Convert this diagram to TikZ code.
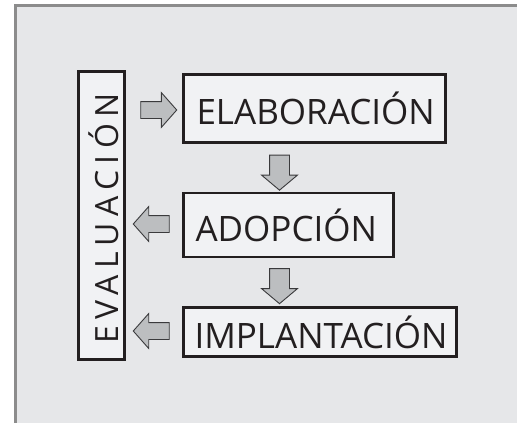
\documentclass[tikz,border=0pt]{standalone}
\usepackage{fontspec}
\setmainfont{Open Sans}
\usetikzlibrary{shapes.arrows}
\definecolor{panel}{HTML}{E6E7E9}
\definecolor{panelline}{HTML}{8C8C8C}
\definecolor{boxfill}{HTML}{F1F2F4}
\definecolor{ink}{HTML}{231F20}
\definecolor{arrowfill}{HTML}{BCBEC0}
\definecolor{arrowline}{HTML}{3A3A3C}
\tikzset{
  stagebox/.style={draw=ink, line width=2.4pt, fill=boxfill, inner sep=0pt},
  stagetext/.style={text=ink, inner sep=0pt, anchor=west, font=\fontsize{35}{40}\selectfont},
  blockarrow/.style={shape=single arrow, draw=arrowline, line width=0.9pt, fill=arrowfill,
    inner sep=0pt, single arrow head indent=0pt},
  hor/.style={blockarrow, minimum height=36pt, minimum width=34pt, inner ysep=8pt,
    single arrow head extend=9pt, single arrow tip angle=97},
  ver/.style={blockarrow, minimum height=35pt, minimum width=35pt, inner ysep=9.5pt,
    single arrow head extend=8pt, single arrow tip angle=100}
}
\begin{document}
\begin{tikzpicture}[x=1pt,y=-1pt]
\useasboundingbox (0,0) rectangle (517,423);
\fill[white] (0,0) rectangle (517,423);
\fill[panel] (15,5) rectangle (517,423);
\draw[panelline, line width=3pt] (15.5,423) -- (15.5,5.8) -- (517,5.8);

\node[stagebox, minimum width=262pt, minimum height=68pt] (elab) at (314.5,108.5) {};
\node[stagetext] (elabt) at ([xshift=14pt]elab.west) {ELABORACIÓN};
\node[stagebox, minimum width=210pt, minimum height=64pt] (adop) at (288.5,225) {};
\node[stagetext] (adopt) at ([xshift=13pt]adop.west) {ADOPCIÓN};
\node[stagebox, minimum width=273pt, minimum height=49pt] (impl) at (320,332) {};
\node[stagetext] (implt) at ([xshift=12pt]impl.west) {IMPLANTACIÓN};
\node[stagebox, minimum width=46pt, minimum height=288pt] (eval) at (101.5,215.5) {};
\node[text=ink, rotate=90, font=\fontsize{32}{36}\selectfont\addfontfeature{LetterSpace=20}] (evaltext) at (103.5,218.5) {EVALUACIÓN};

\node[hor] (a1) at (155,110) {};
\node[hor, rotate=180] (a2) at (155,224) {};
\node[hor, rotate=180] (a3) at (155,331) {};
\node[ver, rotate=-90] (d1) at (279.5,168.5) {};
\node[ver, rotate=-90] (d2) at (279.5,282) {};
\end{tikzpicture}
\end{document}
